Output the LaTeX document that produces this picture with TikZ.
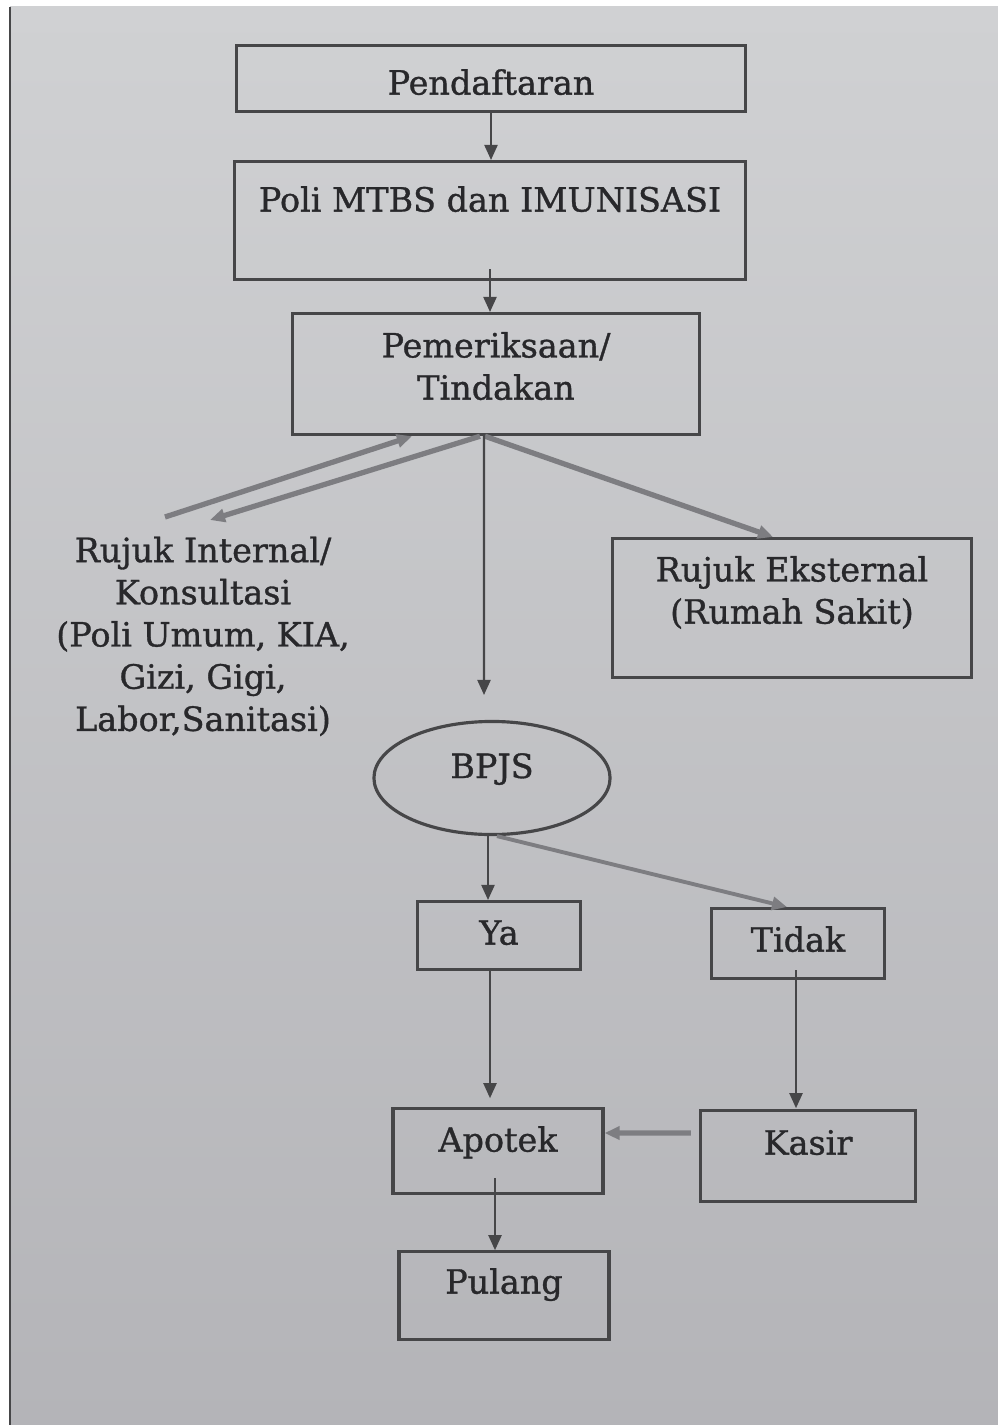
\documentclass[tikz,border=0pt]{standalone}
\usepackage{fontspec}
\setmainfont{DejaVu Serif}[FakeBold=1]
\usetikzlibrary{arrows.meta,shapes.geometric}
\definecolor{kertas}{RGB}{208,209,211}
\definecolor{kertasm}{RGB}{200,200,203}
\definecolor{kertasb}{RGB}{180,180,184}
\definecolor{garis}{RGB}{70,70,72}
\definecolor{abu}{RGB}{125,125,129}
\definecolor{tulisan}{RGB}{40,40,43}
\tikzset{
  kotak/.style={draw=garis, line width=0.9pt, inner sep=0pt, align=center, anchor=north},
  panah/.style={->, draw=garis, line width=0.6pt},
  panahabu/.style={->, draw=abu, line width=1.5pt},
}

\begin{document}
\begin{tikzpicture}[x=0.01cm, y=-0.01cm, >={Triangle[length=1.5mm,width=1.3mm]}, font=\fontsize{9.5}{12}\selectfont, text=tulisan]
\useasboundingbox (0,0) rectangle (998,1425);
\fill[white] (0,0) rectangle (998,1425);
\shade[top color=kertas, middle color=kertasm, bottom color=kertasb] (10,7) rectangle (998,1425);
\draw[garis, line width=0.6pt] (10,7) -- (10,1425);

\node[kotak, minimum width=5.08cm, text height=0.49cm, text depth=0.17cm] (daftar) at (491,44) {Pendaftaran};
\node[kotak, minimum width=5.10cm, text height=0.50cm, text depth=0.68cm] (poli) at (490,160) {Poli MTBS dan IMUNISASI};
\node[kotak, minimum width=4.07cm, text height=0.86cm, text depth=0.35cm] (periksa) at (496,312) {Pemeriksaan/\\Tindakan};
\node[align=center, anchor=north, inner sep=0pt] (internal) at (203,536) {Rujuk Internal/\\Konsultasi\\(Poli Umum, KIA,\\Gizi, Gigi,\\Labor,Sanitasi)};
\node[kotak, minimum width=3.59cm, text height=0.85cm, text depth=0.54cm] (eksternal) at (792,537) {Rujuk Eksternal\\(Rumah Sakit)};
\node[ellipse, draw=garis, line width=0.9pt, inner sep=0pt, minimum width=2.36cm, minimum height=1.13cm, text height=0.22cm, text depth=0.22cm] (bpjs) at (492,778) {BPJS};
\node[kotak, minimum width=1.63cm, text height=0.43cm, text depth=0.25cm] (ya) at (499,900) {Ya};
\node[kotak, minimum width=1.73cm, text height=0.43cm, text depth=0.27cm] (tidak) at (798,907) {Tidak};
\node[kotak, minimum width=2.10cm, text height=0.43cm, text depth=0.42cm] (apotek) at (498,1107) {Apotek};
\node[kotak, minimum width=2.15cm, text height=0.44cm, text depth=0.47cm] (kasir) at (808,1109) {Kasir};
\node[kotak, minimum width=2.10cm, text height=0.42cm, text depth=0.46cm] (pulang) at (504,1250) {Pulang};

\coordinate (ki1) at (210,520);
\coordinate (ki2) at (165,517);
\coordinate (atasbpjs) at (484,695);

% alur utama
\draw[panah] (daftar.south) -- (daftar.south |- poli.north);
\draw[panah] ([yshift=0.12cm]poli.south) -- (poli.south |- periksa.north);
\draw[panahabu] ([xshift=-0.16cm]periksa.south) -- (ki1);
\draw[panahabu] (ki2) -- ([xshift=-0.84cm]periksa.south);
\draw[panahabu] ([xshift=-0.11cm]periksa.south) -- ([xshift=-0.19cm]eksternal.north);
\draw[panah] ([xshift=-0.12cm]periksa.south) -- (atasbpjs);
\draw[panah] ([xshift=-0.04cm]bpjs.south) -- ([xshift=-0.04cm]bpjs.south |- ya.north);
\draw[panahabu, line width=1.1pt] ([xshift=0.05cm]bpjs.south) -- ([xshift=-0.11cm]tidak.north);
\draw[panah] ([xshift=-0.09cm]ya.south) -- ++(0,127);
\draw[panah] ([xshift=-0.02cm,yshift=0.1cm]tidak.south) -- ++(0,138);
\draw[panahabu] ([xshift=-0.08cm,yshift=-0.24cm]kasir.north west) -- ([yshift=-0.26cm]apotek.north east);
\draw[panah] ([xshift=-0.03cm,yshift=0.17cm]apotek.south) -- ++(0,72);
\end{tikzpicture}
\end{document}
